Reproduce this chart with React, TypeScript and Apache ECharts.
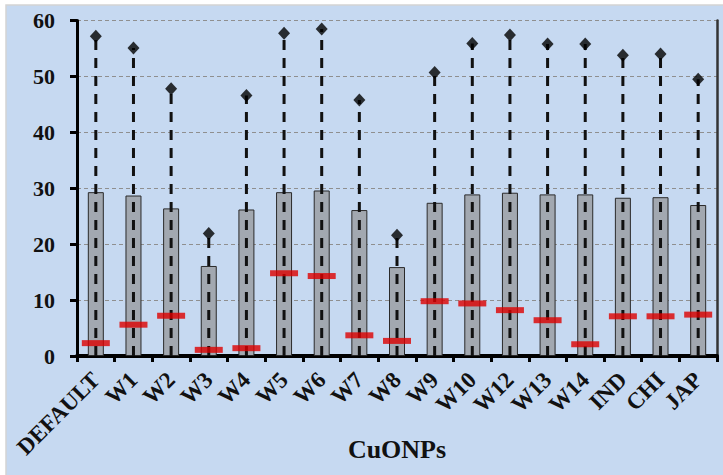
import React, { useEffect, useRef } from "react";
import * as echarts from "echarts";

const categories = ["DEFAULT", "W1", "W2", "W3", "W4", "W5", "W6", "W7", "W8", "W9", "W10", "W12", "W13", "W14", "IND", "CHI", "JAP"];
const meanValues = [29.3, 28.7, 26.4, 16.1, 26.2, 29.3, 29.6, 26.1, 15.9, 27.4, 28.9, 29.2, 28.9, 28.9, 28.3, 28.4, 27.0];
const maxValues = [57.2, 55.1, 47.8, 21.9, 46.6, 57.7, 58.5, 45.8, 21.6, 50.7, 55.9, 57.4, 55.8, 55.8, 53.8, 54.0, 49.5];
const minValues = [2.3, 5.6, 7.2, 1.1, 1.4, 14.8, 14.3, 3.7, 2.7, 9.8, 9.4, 8.2, 6.4, 2.1, 7.1, 7.1, 7.4];
const yTicks = { min: 0, max: 60, interval: 10 };

const SERIF = "'Liberation Serif', 'Times New Roman', serif";
const BG = "#c6d9f1";

export default function App() {
  const ref = useRef<HTMLDivElement>(null);
  useEffect(() => {
    if (!ref.current) return;
    const chart = echarts.init(ref.current, null, { renderer: "svg" });
    chart.setOption({
      animation: false,
      backgroundColor: "#ffffff",
      graphic: [
        {
          type: "rect",
          z: -10,
          silent: true,
          shape: { x: 6, y: 5, width: 730, height: 480 },
          style: { fill: BG, stroke: "#d4d4d4", lineWidth: 1.5 },
        },
      ],
      grid: { left: 77, right: 6, top: 20.5, bottom: 119, outerBoundsMode: "none", containLabel: false },
      xAxis: [
        {
          type: "category",
          data: categories,
          position: "bottom",
          axisLine: { lineStyle: { color: "#000", width: 3 } },
          axisTick: { show: true, length: 6, lineStyle: { color: "#000", width: 3 } },
          axisLabel: {
            rotate: 45,
            margin: 20,
            interval: 0,
            color: "#111",
            fontFamily: SERIF,
            fontWeight: "bold",
            fontSize: 23,
          },
          name: "CuONPs",
          nameLocation: "middle",
          nameGap: 80,
          nameMoveOverlap: false,
          nameTextStyle: { color: "#111", fontFamily: SERIF, fontWeight: "bold", fontSize: 26 },
          splitLine: { show: false },
        },
        {
          type: "category",
          data: categories,
          position: "top",
          axisLine: { lineStyle: { color: "#000", width: 4 } },
          axisTick: { show: false },
          axisLabel: { show: false },
          splitLine: { show: false },
        },
      ],
      yAxis: [
        {
          type: "value",
          min: yTicks.min,
          max: yTicks.max,
          interval: yTicks.interval,
          axisLine: { show: true, lineStyle: { color: "#000", width: 3 } },
          axisTick: { show: true, length: 7, lineStyle: { color: "#000", width: 3 } },
          axisLabel: {
            margin: 22,
            color: "#111",
            fontFamily: SERIF,
            fontWeight: "bold",
            fontSize: 22,
          },
          splitLine: { show: true, lineStyle: { color: "#8f8f8f", width: 1, type: [4, 3] } },
        },
        {
          type: "value",
          min: yTicks.min,
          max: yTicks.max,
          interval: yTicks.interval,
          position: "right",
          axisLine: { show: true, lineStyle: { color: "#333", width: 2.5 } },
          axisTick: { show: false },
          axisLabel: { show: false },
          splitLine: { show: false },
        },
      ],
      series: [
        {
          type: "bar",
          data: meanValues,
          barWidth: 16,
          itemStyle: { color: "#a2a8b0", borderColor: "#2a2a2a", borderWidth: 1 },
          z: 2,
        },
        {
          type: "custom",
          z: 3,
          data: maxValues.map((v, i) => [i, v]),
          encode: { x: 0, y: 1 },
          renderItem: (params: any, api: any) => {
            const i = api.value(0);
            const top = api.coord([i, api.value(1)]);
            const bot = api.coord([i, 0]);
            return {
              type: "line",
              shape: { x1: bot[0], y1: bot[1], x2: top[0], y2: top[1] },
              style: { stroke: "#111", lineWidth: 3, lineDash: [10, 8] },
            };
          },
        },
        {
          type: "scatter",
          data: maxValues,
          symbol: "diamond",
          symbolSize: [12, 13],
          itemStyle: { color: "#000" },
          z: 4,
        },
        {
          type: "scatter",
          data: minValues,
          symbol: "rect",
          symbolSize: [28, 6],
          itemStyle: { color: "#dd0000" },
          z: 5,
        },
      ],
    });
    return () => chart.dispose();
  }, []);
  return (
    <div
      ref={ref}
      style={{ position: "absolute", left: 0, top: 0, width: 723, height: 475 }}
    />
  );
}
